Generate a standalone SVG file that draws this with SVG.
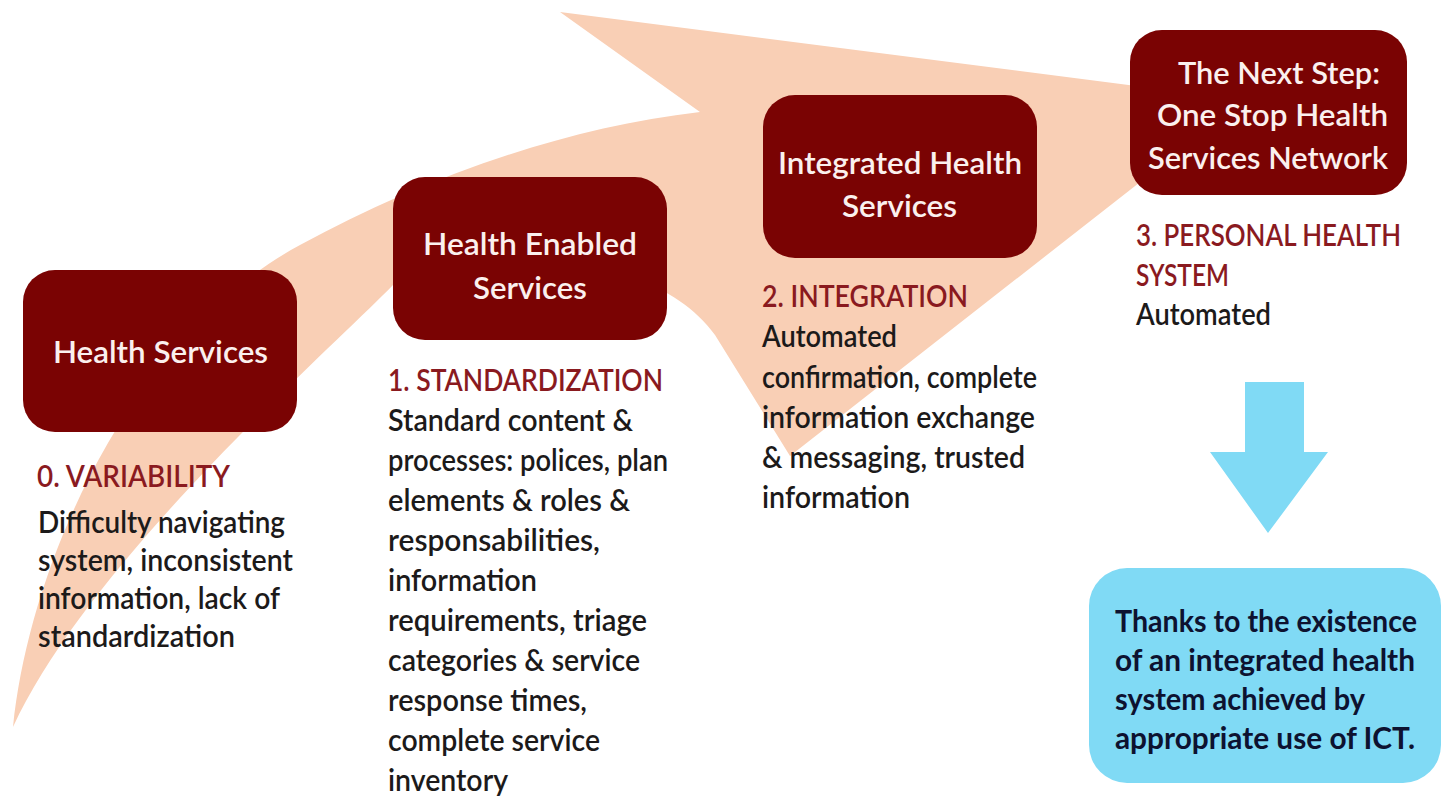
<svg xmlns="http://www.w3.org/2000/svg" width="1443" height="801" viewBox="0 0 1443 801">
<style>
.box{fill:#7a0303}
.bt{font-family:Lato,"Liberation Sans",sans-serif;font-weight:600;font-size:31px;fill:#fbf0ee}
.hd{font-family:Lato,"Liberation Sans",sans-serif;font-weight:600;font-size:30px;fill:#8a1a1f}
.tx{font-family:Lato,"Liberation Sans",sans-serif;font-weight:600;font-size:30px;fill:#1c1a1a}
.bl{font-family:Lato,"Liberation Sans",sans-serif;font-weight:700;font-size:30px;fill:#0d1230}
</style>
<rect width="1443" height="801" fill="#ffffff"/>
<g id="swoosh">
<path d="M13,727 C30,560 132,336 300,245 C420,180 560,128 700,112 L560,12 L1245,100 L790,456 L715,335 C650,245 480,250 393,285 C330,350 90,560 13,727 Z" fill="#f9cfb5"/>
</g>
<g id="connectors">
<polygon points="1245,382 1304,382 1304,452 1328,452 1268,533 1210,452 1245,452" fill="#80daf5"/>
</g>
<g id="node-health-services">
<rect class="box" x="23" y="270" width="274" height="162" rx="32"/>
<text class="bt" x="53" y="363" textLength="215" lengthAdjust="spacingAndGlyphs">Health Services</text>
</g>
<g id="node-health-enabled">
<rect class="box" x="393" y="177" width="274" height="163" rx="32"/>
<text class="bt" x="423" y="255" textLength="214" lengthAdjust="spacingAndGlyphs">Health Enabled</text>
<text class="bt" x="473" y="299" textLength="114" lengthAdjust="spacingAndGlyphs">Services</text>
</g>
<g id="node-integrated">
<rect class="box" x="763" y="95" width="274" height="163" rx="32"/>
<text class="bt" x="778" y="174" textLength="244" lengthAdjust="spacingAndGlyphs">Integrated Health</text>
<text class="bt" x="842" y="217" textLength="115" lengthAdjust="spacingAndGlyphs">Services</text>
</g>
<g id="node-next-step">
<rect class="box" x="1130" y="30" width="277" height="165" rx="32"/>
<text class="bt" x="1178" y="84" textLength="202" lengthAdjust="spacingAndGlyphs">The Next Step:</text>
<text class="bt" x="1157" y="126" textLength="231" lengthAdjust="spacingAndGlyphs">One Stop Health</text>
<text class="bt" x="1148" y="169" textLength="240" lengthAdjust="spacingAndGlyphs">Services Network</text>
</g>
<g id="label-variability">
<text class="hd" x="37" y="487" textLength="193" lengthAdjust="spacingAndGlyphs">0. VARIABILITY</text>
<text class="tx" x="38" y="533" textLength="247" lengthAdjust="spacingAndGlyphs">Difficulty navigating</text>
<text class="tx" x="38" y="571" textLength="255" lengthAdjust="spacingAndGlyphs">system, inconsistent</text>
<text class="tx" x="38" y="609" textLength="242" lengthAdjust="spacingAndGlyphs">information, lack of</text>
<text class="tx" x="38" y="647" textLength="197" lengthAdjust="spacingAndGlyphs">standardization</text>
</g>
<g id="label-standardization">
<text class="hd" x="388" y="391" textLength="275" lengthAdjust="spacingAndGlyphs">1. STANDARDIZATION</text>
<text class="tx" x="388" y="431" textLength="245" lengthAdjust="spacingAndGlyphs">Standard content &amp;</text>
<text class="tx" x="388" y="471" textLength="280" lengthAdjust="spacingAndGlyphs">processes: polices, plan</text>
<text class="tx" x="388" y="511" textLength="242" lengthAdjust="spacingAndGlyphs">elements &amp; roles &amp;</text>
<text class="tx" x="388" y="551" textLength="212" lengthAdjust="spacingAndGlyphs">responsabilities,</text>
<text class="tx" x="388" y="591" textLength="149" lengthAdjust="spacingAndGlyphs">information</text>
<text class="tx" x="388" y="631" textLength="259" lengthAdjust="spacingAndGlyphs">requirements, triage</text>
<text class="tx" x="388" y="671" textLength="252" lengthAdjust="spacingAndGlyphs">categories &amp; service</text>
<text class="tx" x="388" y="711" textLength="199" lengthAdjust="spacingAndGlyphs">response times,</text>
<text class="tx" x="388" y="751" textLength="212" lengthAdjust="spacingAndGlyphs">complete service</text>
<text class="tx" x="388" y="791" textLength="120" lengthAdjust="spacingAndGlyphs">inventory</text>
</g>
<g id="label-integration">
<text class="hd" x="762" y="307" textLength="206" lengthAdjust="spacingAndGlyphs">2. INTEGRATION</text>
<text class="tx" x="762" y="347" textLength="135" lengthAdjust="spacingAndGlyphs">Automated</text>
<text class="tx" x="762" y="388" textLength="275" lengthAdjust="spacingAndGlyphs">confirmation, complete</text>
<text class="tx" x="762" y="428" textLength="273" lengthAdjust="spacingAndGlyphs">information exchange</text>
<text class="tx" x="762" y="468" textLength="263" lengthAdjust="spacingAndGlyphs">&amp; messaging, trusted</text>
<text class="tx" x="762" y="508" textLength="148" lengthAdjust="spacingAndGlyphs">information</text>
</g>
<g id="label-personal">
<text class="hd" x="1136" y="246" font-size="28" textLength="265" lengthAdjust="spacingAndGlyphs">3. PERSONAL HEALTH</text>
<text class="hd" x="1136" y="286" textLength="93" lengthAdjust="spacingAndGlyphs">SYSTEM</text>
<text class="tx" x="1136" y="325" textLength="135" lengthAdjust="spacingAndGlyphs">Automated</text>
</g>
<g id="node-result">
<rect x="1089" y="568" width="352" height="215" rx="38" fill="#80daf5"/>
<text class="bl" x="1115" y="632" textLength="302" lengthAdjust="spacingAndGlyphs">Thanks to the existence</text>
<text class="bl" x="1115" y="671" textLength="300" lengthAdjust="spacingAndGlyphs">of an integrated health</text>
<text class="bl" x="1115" y="710" textLength="250" lengthAdjust="spacingAndGlyphs">system achieved by</text>
<text class="bl" x="1115" y="749" textLength="300" lengthAdjust="spacingAndGlyphs">appropriate use of ICT.</text>
</g>
</svg>
